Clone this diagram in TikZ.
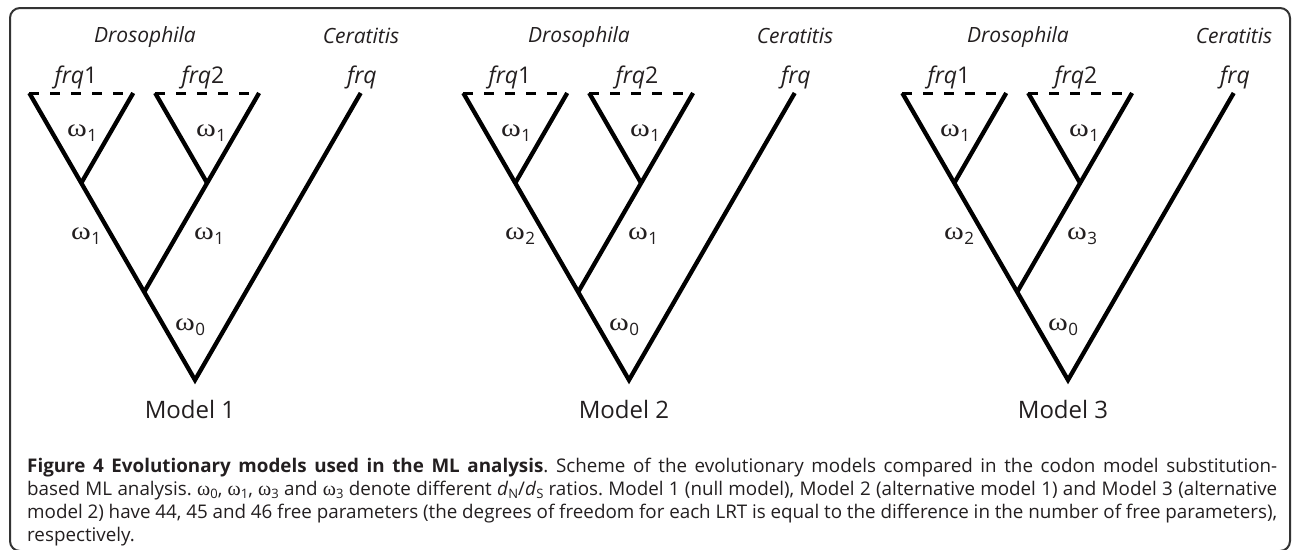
\documentclass[tikz,border=0pt]{standalone}
\usepackage{fontspec}
\usepackage{graphicx}
\setmainfont{Open Sans}
\newfontfamily\omfont{Liberation Serif}
\definecolor{ink}{HTML}{231F20}
\definecolor{framec}{HTML}{333333}
\newcommand\omg[1]{{\omfont\fontsize{25}{25}\selectfont\scalebox{1.2}[1]{ω}}\kern0.5pt\raisebox{-5pt}{\fontsize{17}{17}\selectfont #1}}
\newcommand\capom[1]{{\omfont\fontsize{20}{20}\selectfont ω}\raisebox{-3pt}{\fontsize{13}{13}\selectfont #1}}
\newcommand\drawmodel[5]{%
\begin{scope}[xshift=#2pt]
  \coordinate (#1R) at (195,380);
  \coordinate (#1A) at (144.19,292);
  \coordinate (#1N1) at (81.26,183);
  \coordinate (#1N2) at (207.12,183);
  \coordinate (#1T1L) at (29.30,93);
  \coordinate (#1T1R) at (133.22,93);
  \coordinate (#1T2L) at (155.16,93);
  \coordinate (#1T2R) at (259.08,93);
  \coordinate (#1F) at (360.70,93);
  \draw[branch, line join=miter] (#1T1L) -- (#1R) -- (#1F);
  \draw[branch] (#1A) -- (#1T2R);
  \draw[branch] (#1N2) -- (#1T2L);
  \draw[branch] (#1N1) -- (#1T1R);
  \draw[tipline] (#1T1L) -- (#1T1R);
  \draw[tipline] (#1T2L) -- (#1T2R);
  \node[grouplbl] (#1dros) at (145,42.7) {Drosophila};
  \node[grouplbl] (#1cer) at (361,43) {Ceratitis};
  \node[genelbl] (#1g1) at (76,83.3) {\textit{frq}1};
  \node[genelbl] (#1g2) at (203,83.3) {\textit{frq}2};
  \node[genelbl] (#1g) at (362,83.3) {\textit{frq}};
  \node[omlbl] (#1w1) at (67,136) {\omg{1}};
  \node[omlbl] (#1w2) at (196,136) {\omg{1}};
  \node[omlbl] (#1w3) at (71,239) {\omg{#3}};
  \node[omlbl] (#1w4) at (194,239) {\omg{#4}};
  \node[omlbl] (#1w0) at (175,330) {\omg{0}};
  \node[modellbl] (#1model) at (190,418) {Model #5};
\end{scope}}
\begin{document}
\begin{tikzpicture}[x=1pt,y=-1pt,
  branch/.style={line width=4.3pt, draw=black},
  tipline/.style={line width=3pt, draw=black, dash pattern=on 10pt off 11pt},
  grouplbl/.style={font=\fontsize{21}{24}\selectfont\itshape, text=ink, anchor=base, inner sep=0pt},
  genelbl/.style={font=\fontsize{23}{26}\selectfont, text=ink, anchor=base, inner sep=0pt},
  omlbl/.style={anchor=base west, inner sep=0pt, text=ink},
  modellbl/.style={font=\fontsize{24}{26}\selectfont, text=ink, anchor=base, inner sep=0pt},
  capline/.style={anchor=base west, inner sep=0pt, text width=1250pt, font=\fontsize{18.8}{22}\selectfont\frenchspacing, text=ink, align=justify}
]
\useasboundingbox (0,0) rectangle (1293,549);
\fill[white] (0,0) rectangle (1293,549);
\draw[framec, line width=2pt, rounded corners=10pt] (10,8) rectangle (1290,551);
\drawmodel{a}{0}{1}{1}{1}
\drawmodel{b}{434}{2}{1}{2}
\drawmodel{c}{873}{2}{3}{3}
\node[capline] (cap1) at (27,472) {\parfillskip=0pt\hyphenpenalty=10000\tolerance=10000 \textbf{Figure 4 Evolutionary models used in the ML analysis}. Scheme of the evolutionary models compared in the codon model substitution-\par};
\node[capline] (cap2) at (27,495) {\parfillskip=0pt\hyphenpenalty=10000\tolerance=10000 based ML analysis. \capom{0}, \capom{1}, \capom{3} and \capom{3} denote different \textit{d}\raisebox{-3pt}{\fontsize{13}{13}\selectfont N}/\textit{d}\raisebox{-3pt}{\fontsize{13}{13}\selectfont S} ratios. Model 1 (null model), Model 2 (alternative model 1) and Model 3 (alternative\par};
\node[capline] (cap3) at (27,518) {\parfillskip=0pt\hyphenpenalty=10000\tolerance=10000 model 2) have 44, 45 and 46 free parameters (the degrees of freedom for each LRT is equal to the difference in the number of free parameters),\par};
\node[capline] (cap4) at (27,541) {respectively.};
\end{tikzpicture}
\end{document}
